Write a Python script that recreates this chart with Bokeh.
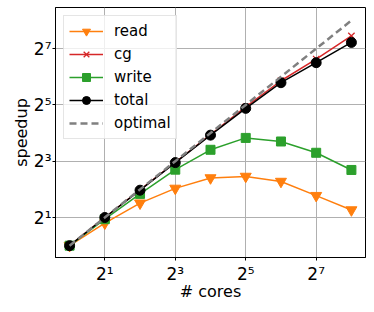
from bokeh.plotting import figure
from bokeh.models import Range1d, FixedTicker, Legend, LegendItem
from bokeh.embed import file_html
from bokeh.resources import INLINE

cores = [1, 2, 4, 8, 16, 32, 64, 128, 256]
read = [1, 1.74, 2.85, 4.1, 5.3, 5.5, 4.86, 3.43, 2.41]
cg = [1, 2.0, 3.95, 7.8, 15.4, 30.5, 58, 99, 175]
write = [1, 1.92, 3.58, 6.5, 10.6, 14.2, 13.0, 9.85, 6.45]
total = [1, 2.0, 3.92, 7.73, 15.2, 29.4, 55.3, 90.5, 149]
optimal = [1, 2, 4, 8, 16, 32, 64, 128, 256]
ticks = [2, 8, 32, 128]
tick_labels = {2: "2¹", 8: "2³", 32: "2⁵", 128: "2⁷"}

FONT = "DejaVu Sans"

p = figure(width=374, height=312, x_axis_type="log", y_axis_type="log",
           output_backend="svg", toolbar_location=None, title=None,
           x_range=Range1d(2 ** -0.4, 2 ** 8.4), y_range=Range1d(2 ** -0.42, 2 ** 8.46),
           min_border_left=55, min_border_right=9, min_border_top=7, min_border_bottom=55)
p.background_fill_color = "white"
p.border_fill_color = "white"
p.outline_line_color = "black"
p.outline_line_width = 1
p.outline_line_alpha = 1

for ax in (p.xaxis[0], p.yaxis[0]):
    ax.ticker = FixedTicker(ticks=ticks, minor_ticks=[])
    ax.major_label_overrides = tick_labels
    ax.major_label_text_font = FONT
    ax.major_label_text_font_size = "17px"
    ax.major_label_text_color = "black"
    ax.axis_label_text_font = FONT
    ax.axis_label_text_font_size = "16px"
    ax.axis_label_text_font_style = "normal"
    ax.axis_label_text_color = "black"
    ax.major_tick_out = 3
    ax.major_tick_in = 0
    ax.minor_tick_out = 0
    ax.minor_tick_in = 0
    ax.axis_line_color = "black"
    ax.major_tick_line_color = "black"

p.xaxis.major_label_standoff = 3
p.xaxis.axis_label_standoff = -5
p.yaxis.major_label_standoff = 1
p.yaxis.axis_label_standoff = 0

p.xaxis.axis_label = "# cores"
p.yaxis.axis_label = "speedup"

for g in (p.xgrid[0], p.ygrid[0]):
    g.ticker = FixedTicker(ticks=ticks, minor_ticks=[])
    g.grid_line_color = "#b0b0b0"
    g.grid_line_width = 1

items = []
lr = p.line(cores, read, color="#ff7f0e", line_width=1.5)
sr = p.scatter(cores, read, marker="inverted_triangle", size=11, color="#ff7f0e")
items.append(LegendItem(label="read", renderers=[lr, sr]))
lc = p.line(cores, cg, color="#d62728", line_width=1.5)
sc = p.scatter(cores, cg, marker="x", size=9, line_color="#d62728", line_width=1.3)
items.append(LegendItem(label="cg", renderers=[lc, sc]))
lw = p.line(cores, write, color="#2ca02c", line_width=1.5)
sw = p.scatter(cores, write, marker="square", size=9, color="#2ca02c")
items.append(LegendItem(label="write", renderers=[lw, sw]))
lt = p.line(cores, total, color="black", line_width=1.5)
st = p.scatter(cores, total, marker="circle", size=10, color="black")
items.append(LegendItem(label="total", renderers=[lt, st]))
lo = p.line(cores, optimal, color="#808080", line_width=2.5, line_dash="7 4")
items.append(LegendItem(label="optimal", renderers=[lo]))

leg = Legend(items=items, location="top_left")
leg.margin = 8
leg.padding = 5
leg.spacing = 3
leg.glyph_width = 34
leg.glyph_height = 20
leg.label_height = 20
leg.label_standoff = 11
leg.label_text_font = FONT
leg.label_text_font_size = "15px"
leg.label_text_color = "black"
leg.border_line_color = "#cccccc"
leg.border_line_width = 1
leg.background_fill_alpha = 0.8
p.add_layout(leg, "center")

open("out.html", "w").write(file_html(p, INLINE))
